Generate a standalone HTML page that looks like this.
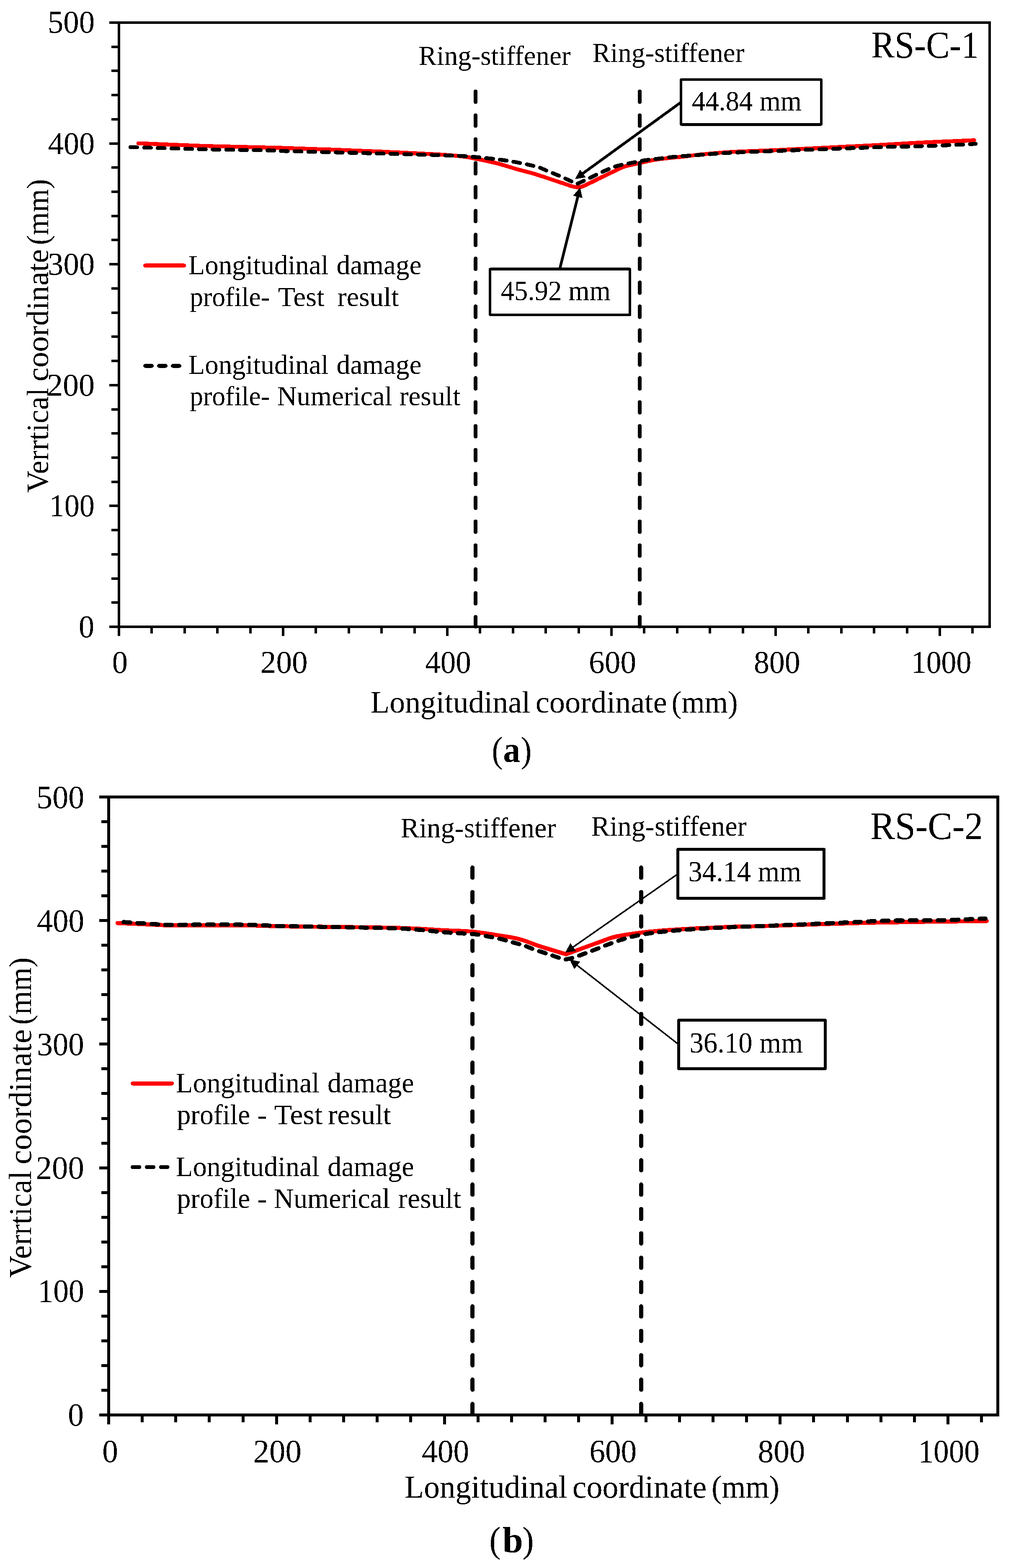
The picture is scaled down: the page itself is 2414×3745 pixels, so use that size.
<!DOCTYPE html>
<html lang="en"><head><meta charset="utf-8"><title>Longitudinal damage profiles RS-C-1 and RS-C-2</title>
<style>html,body{margin:0;padding:0;background:#fff}svg{display:block}text{font-family:'Liberation Serif', 'DejaVu Serif', serif;fill:#000;white-space:pre}</style></head><body>
<svg width="2414" height="3745" viewBox="0 0 2414 3745">
<defs><filter id="crisp" filterUnits="userSpaceOnUse" x="0" y="0" width="2414" height="3745" color-interpolation-filters="sRGB"><feComponentTransfer><feFuncR type="discrete" tableValues="0 1"/><feFuncG type="discrete" tableValues="0 1"/><feFuncB type="discrete" tableValues="0 1"/></feComponentTransfer></filter></defs>
<g filter="url(#crisp)">
<rect x="0" y="0" width="2414" height="3745" fill="#fff"/>
<g id="chart-a">
<rect x="284" y="54" width="2079.0" height="1443.0" fill="none" stroke="#000" stroke-width="6"/>
<path d="M261,1497.0H284M266,1439.0H284M266,1382.0H284M266,1324.0H284M266,1266.0H284M261,1208.0H284M266,1151.0H284M266,1093.0H284M266,1035.0H284M266,978.0H284M261,920.0H284M266,862.0H284M266,804.0H284M266,747.0H284M266,689.0H284M261,631.0H284M266,573.0H284M266,516.0H284M266,458.0H284M266,400.0H284M261,343.0H284M266,285.0H284M266,227.0H284M266,169.0H284M266,112.0H284M261,54.0H284M284.0,1497V1519M362.0,1497V1513M441.0,1497V1513M519.0,1497V1513M598.0,1497V1513M676.0,1497V1519M754.0,1497V1513M833.0,1497V1513M911.0,1497V1513M990.0,1497V1513M1068.0,1497V1519M1146.0,1497V1513M1225.0,1497V1513M1303.0,1497V1513M1382.0,1497V1513M1460.0,1497V1519M1538.0,1497V1513M1617.0,1497V1513M1695.0,1497V1513M1774.0,1497V1513M1852.0,1497V1519M1930.0,1497V1513M2009.0,1497V1513M2087.0,1497V1513M2166.0,1497V1513M2244.0,1497V1519M2322.0,1497V1513" stroke="#000" stroke-width="6" fill="none"/>
<text x="188.11" y="1522.0" font-size="75.7" textLength="37.18" lengthAdjust="spacingAndGlyphs">0</text>
<text x="117.69" y="1233.4" font-size="75.7" textLength="108.22" lengthAdjust="spacingAndGlyphs">100</text>
<text x="112.08" y="944.8" font-size="75.7" textLength="114.07" lengthAdjust="spacingAndGlyphs">200</text>
<text x="114.05" y="656.2" font-size="75.7" textLength="112.05" lengthAdjust="spacingAndGlyphs">300</text>
<text x="114.92" y="367.6" font-size="75.7" textLength="111.27" lengthAdjust="spacingAndGlyphs">400</text>
<text x="113.89" y="78.0" font-size="75.7" textLength="112.31" lengthAdjust="spacingAndGlyphs">500</text>
<text x="267.8" y="1607" font-size="75.7" textLength="37.29" lengthAdjust="spacingAndGlyphs">0</text>
<text x="621.92" y="1607" font-size="75.7" textLength="112.59" lengthAdjust="spacingAndGlyphs">200</text>
<text x="1015.24" y="1607" font-size="75.7" textLength="109.71" lengthAdjust="spacingAndGlyphs">400</text>
<text x="1405.99" y="1607" font-size="75.7" textLength="113.13" lengthAdjust="spacingAndGlyphs">600</text>
<text x="1799.93" y="1607" font-size="75.7" textLength="110.74" lengthAdjust="spacingAndGlyphs">800</text>
<text x="2175.93" y="1607" font-size="75.7" textLength="143.36" lengthAdjust="spacingAndGlyphs">1000</text>
<path d="M330.3,342.2C356.6,343.3 429.7,346.7 488.0,348.6C546.3,350.5 613.3,351.4 680.0,353.5C746.7,355.6 821.3,358.2 888.0,361.2C954.7,364.1 1038.8,368.2 1080.0,371.2C1121.2,374.2 1118.0,376.0 1135.3,379.0C1152.6,382.0 1167.2,385.2 1183.9,389.4C1200.7,393.6 1219.8,399.9 1235.8,404.4C1251.8,408.9 1262.7,411.1 1280.0,416.4C1297.3,421.7 1325.4,431.5 1339.7,436.3C1354.0,441.1 1359.2,443.2 1366.0,445.0C1372.8,446.8 1375.9,447.4 1380.6,447.2C1385.3,447.0 1384.1,448.3 1394.0,444.0C1403.9,439.7 1428.0,427.4 1440.0,421.6C1452.0,415.8 1457.3,413.3 1466.0,409.3C1474.7,405.3 1481.8,400.8 1492.0,397.5C1502.2,394.2 1514.5,392.2 1527.5,389.4C1540.5,386.6 1551.2,383.4 1570.0,380.7C1588.8,378.0 1623.7,374.9 1640.0,373.0C1656.3,371.1 1650.2,371.3 1667.8,369.6C1685.4,367.9 1713.7,364.8 1745.7,362.9C1777.7,361.0 1800.0,361.0 1860.0,358.2C1920.0,355.4 2047.0,348.9 2105.4,345.9C2163.8,342.9 2173.8,341.8 2210.6,340.0C2247.4,338.2 2306.8,335.8 2326.0,335.0" fill="none" stroke="#ff0000" stroke-width="9.4" stroke-linecap="round" stroke-linejoin="round"/>
<line x1="1135.6" y1="218.2" x2="1135.6" y2="1497" stroke="#000" stroke-width="9.2" stroke-linecap="round" stroke-dasharray="25.4 31.66"/>
<line x1="1527.6" y1="218.2" x2="1527.6" y2="1497" stroke="#000" stroke-width="9.2" stroke-linecap="round" stroke-dasharray="25.4 31.66"/>
<path d="M311.4,351.5C340.8,352.4 432.6,355.3 488.0,356.6C543.4,357.9 612.0,358.5 644.0,359.2C676.0,359.9 639.3,359.6 680.0,360.8C720.7,362.0 821.3,364.4 888.0,366.2C954.7,368.0 1038.8,370.2 1080.0,371.7C1121.2,373.2 1120.6,374.0 1135.3,375.1C1150.0,376.2 1157.6,377.2 1168.3,378.4C1179.0,379.6 1188.9,380.6 1199.5,382.1C1210.1,383.6 1221.1,385.3 1231.9,387.3C1242.7,389.3 1255.3,391.9 1264.4,394.0C1273.5,396.1 1279.7,397.4 1286.5,399.7C1293.3,401.9 1297.2,404.1 1305.3,407.5C1313.4,410.9 1325.2,415.6 1335.2,419.9C1345.2,424.2 1358.1,430.2 1365.1,433.5C1372.1,436.8 1375.1,438.4 1377.1,439.4C1380.3,438.0 1388.1,434.7 1396.2,430.9C1404.3,427.1 1415.9,421.2 1425.5,416.6C1435.1,412.0 1445.6,406.9 1454.0,403.4C1462.4,399.9 1466.8,398.2 1475.7,395.8C1484.6,393.4 1496.9,391.2 1507.5,389.1C1518.1,387.0 1528.7,384.6 1539.4,382.9C1550.1,381.2 1561.0,380.3 1571.8,379.0C1582.6,377.7 1593.8,376.2 1604.3,375.1C1614.8,374.0 1624.2,373.3 1634.8,372.5C1645.4,371.7 1649.3,371.5 1667.8,370.2C1686.3,368.9 1713.7,366.3 1745.7,364.7C1777.7,363.1 1800.0,362.5 1860.0,360.3C1920.0,358.1 2047.0,353.3 2105.4,351.4C2163.8,349.5 2175.5,350.1 2210.6,348.9C2245.7,347.7 2296.0,345.2 2315.8,344.3C2335.6,343.4 2327.3,343.7 2329.6,343.6" fill="none" stroke="#000" stroke-width="9.2" stroke-linecap="round" stroke-linejoin="round" stroke-dasharray="16.4 16.3" stroke-dashoffset="0"/>
<line x1="346.8" y1="634.1" x2="439.7" y2="634.1" stroke="#ff0000" stroke-width="9.3" stroke-linecap="round"/>
<line x1="346.9" y1="873.8" x2="428.3" y2="873.8" stroke="#000" stroke-width="9.3" stroke-linecap="round" stroke-dasharray="15.6 17.3"/>
<text y="655.2" font-size="65.5"><tspan x="449.66" textLength="334.91" lengthAdjust="spacingAndGlyphs">Longitudinal</tspan> <tspan x="803.51" textLength="203.23" lengthAdjust="spacingAndGlyphs">damage</tspan></text>
<text y="730.6" font-size="65.5"><tspan x="453.25" textLength="190.75" lengthAdjust="spacingAndGlyphs">profile-</tspan> <tspan x="663.83" textLength="110.84" lengthAdjust="spacingAndGlyphs">Test</tspan> <tspan x="805.78" textLength="146.66" lengthAdjust="spacingAndGlyphs">result</tspan></text>
<text y="893.2" font-size="65.5"><tspan x="449.66" textLength="334.91" lengthAdjust="spacingAndGlyphs">Longitudinal</tspan> <tspan x="803.51" textLength="203.23" lengthAdjust="spacingAndGlyphs">damage</tspan></text>
<text y="967.6" font-size="65.5"><tspan x="453.25" textLength="190.75" lengthAdjust="spacingAndGlyphs">profile-</tspan> <tspan x="661.85" textLength="274.67" lengthAdjust="spacingAndGlyphs">Numerical</tspan> <tspan x="953.39" textLength="145.85" lengthAdjust="spacingAndGlyphs">result</tspan></text>
<line x1="1629.5" y1="241.7" x2="1390.2" y2="415.4" stroke="#000" stroke-width="6.5"/>
<polygon points="1373.2,427.7 1385.1,404.9 1398.6,423.5" fill="#000"/>
<line x1="1333.6" y1="653.8" x2="1380.1" y2="468.2" stroke="#000" stroke-width="6.5"/>
<polygon points="1385.2,447.8 1390.8,472.9 1368.5,467.3" fill="#000"/>
<rect x="1626.4" y="189.9" width="334.2" height="107.5" fill="#fff" stroke="#000" stroke-width="6" stroke-linejoin="round"/>
<text x="1651.91" y="264" font-size="67.2" textLength="262.1" lengthAdjust="spacingAndGlyphs">44.84 mm</text>
<rect x="1170.3" y="642.5" width="333.7" height="109.6" fill="#fff" stroke="#000" stroke-width="6" stroke-linejoin="round"/>
<text x="1195.81" y="716.6" font-size="67.2" textLength="262.1" lengthAdjust="spacingAndGlyphs">45.92 mm</text>
<text x="999.35" y="155" font-size="65.5" textLength="363.02" lengthAdjust="spacingAndGlyphs">Ring-stiffener</text>
<text x="1414.15" y="148.2" font-size="65" textLength="363.02" lengthAdjust="spacingAndGlyphs">Ring-stiffener</text>
<text x="2080.28" y="137.8" font-size="90.7" textLength="257.07" lengthAdjust="spacingAndGlyphs">RS-C-1</text>
<text y="1701.7" font-size="74"><tspan x="885.09" textLength="381.37" lengthAdjust="spacingAndGlyphs">Longitudinal</tspan> <tspan x="1278.81" textLength="314.11" lengthAdjust="spacingAndGlyphs">coordinate</tspan> <tspan x="1603.5" textLength="158.15" lengthAdjust="spacingAndGlyphs">(mm)</tspan></text>
<text y="114.9" font-size="74" transform="rotate(-90)"><tspan x="-1176.73" textLength="250.17" lengthAdjust="spacingAndGlyphs">Verrtical</tspan> <tspan x="-911.11" textLength="316.05" lengthAdjust="spacingAndGlyphs">coordinate</tspan> <tspan x="-585.29" textLength="157.52" lengthAdjust="spacingAndGlyphs">(mm)</tspan></text>
<text y="1820" font-size="86"><tspan x="1174.37" textLength="26.12" lengthAdjust="spacingAndGlyphs">(</tspan><tspan x="1201.45" font-weight="bold" textLength="40.77" lengthAdjust="spacingAndGlyphs">a</tspan><tspan x="1243.48" textLength="25.86" lengthAdjust="spacingAndGlyphs">)</tspan></text>
</g>
<g id="chart-b">
<rect x="259.5" y="1903.5" width="2123.0" height="1476.0" fill="none" stroke="#000" stroke-width="7"/>
<path d="M237,3379.5H259.5M242,3320.5H259.5M242,3261.5H259.5M242,3202.5H259.5M242,3143.5H259.5M237,3084.5H259.5M242,3025.5H259.5M242,2966.5H259.5M242,2907.5H259.5M242,2848.5H259.5M237,2789.5H259.5M242,2730.5H259.5M242,2671.5H259.5M242,2611.5H259.5M242,2552.5H259.5M237,2493.5H259.5M242,2434.5H259.5M242,2375.5H259.5M242,2316.5H259.5M242,2257.5H259.5M237,2198.5H259.5M242,2139.5H259.5M242,2080.5H259.5M242,2021.5H259.5M242,1962.5H259.5M237,1903.5H259.5M259.5,3379.5V3402M339.5,3379.5V3397M419.5,3379.5V3397M499.5,3379.5V3397M580.5,3379.5V3397M660.5,3379.5V3402M740.5,3379.5V3397M820.5,3379.5V3397M900.5,3379.5V3397M980.5,3379.5V3397M1061.5,3379.5V3402M1141.5,3379.5V3397M1221.5,3379.5V3397M1301.5,3379.5V3397M1381.5,3379.5V3397M1461.5,3379.5V3402M1542.5,3379.5V3397M1622.5,3379.5V3397M1702.5,3379.5V3397M1782.5,3379.5V3397M1862.5,3379.5V3402M1942.5,3379.5V3397M2023.5,3379.5V3397M2103.5,3379.5V3397M2183.5,3379.5V3397M2263.5,3379.5V3402M2343.5,3379.5V3397" stroke="#000" stroke-width="7" fill="none"/>
<text x="162.37" y="3404.6" font-size="77.5" textLength="37.76" lengthAdjust="spacingAndGlyphs">0</text>
<text x="90.36" y="3109.4" font-size="77.5" textLength="110.4" lengthAdjust="spacingAndGlyphs">100</text>
<text x="85.54" y="2815.2" font-size="77.5" textLength="115.34" lengthAdjust="spacingAndGlyphs">200</text>
<text x="88.23" y="2520.0" font-size="77.5" textLength="112.58" lengthAdjust="spacingAndGlyphs">300</text>
<text x="88.09" y="2224.8" font-size="77.5" textLength="113.24" lengthAdjust="spacingAndGlyphs">400</text>
<text x="87.02" y="1929.6" font-size="77.5" textLength="114.34" lengthAdjust="spacingAndGlyphs">500</text>
<text x="244.18" y="3492.2" font-size="77.5" textLength="37.65" lengthAdjust="spacingAndGlyphs">0</text>
<text x="604.54" y="3492.2" font-size="77.5" textLength="115.45" lengthAdjust="spacingAndGlyphs">200</text>
<text x="1006.99" y="3492.2" font-size="77.5" textLength="113.45" lengthAdjust="spacingAndGlyphs">400</text>
<text x="1407.19" y="3492.2" font-size="77.5" textLength="113.13" lengthAdjust="spacingAndGlyphs">600</text>
<text x="1809.58" y="3492.2" font-size="77.5" textLength="112.74" lengthAdjust="spacingAndGlyphs">800</text>
<text x="2192.5" y="3492.2" font-size="77.5" textLength="146.35" lengthAdjust="spacingAndGlyphs">1000</text>
<path d="M280.5,2204.7C295.2,2205.3 348.6,2207.6 369.0,2208.5C389.4,2209.4 386.4,2209.8 402.9,2210.0C419.4,2210.2 439.7,2209.8 467.8,2209.8C495.9,2209.8 543.6,2209.6 571.7,2209.8C599.8,2210.1 621.9,2210.9 636.6,2211.3C651.3,2211.7 638.8,2211.6 660.0,2212.0C681.2,2212.4 729.3,2213.2 763.9,2213.6C798.5,2214.0 833.2,2214.2 867.8,2214.7C902.4,2215.2 939.7,2215.6 971.7,2216.8C1003.7,2218.0 1034.0,2220.4 1060.0,2221.8C1086.0,2223.2 1106.3,2223.2 1128.0,2225.2C1149.7,2227.2 1171.2,2230.9 1189.9,2233.9C1208.6,2236.9 1223.0,2238.5 1240.0,2243.0C1257.0,2247.5 1273.4,2255.0 1292.0,2261.0C1310.6,2267.0 1341.8,2276.2 1351.7,2279.2C1366.4,2273.8 1420.0,2253.9 1440.0,2246.8C1460.0,2239.7 1456.8,2239.8 1472.0,2236.6C1487.2,2233.4 1509.4,2230.1 1531.0,2227.5C1552.6,2224.9 1577.0,2222.8 1601.8,2221.0C1626.6,2219.2 1653.7,2217.9 1679.7,2216.6C1705.7,2215.3 1734.3,2214.0 1757.7,2213.2C1781.1,2212.4 1764.6,2213.4 1820.0,2211.8C1875.4,2210.2 2000.7,2205.6 2090.0,2203.6C2179.3,2201.6 2311.7,2200.4 2356.0,2199.8" fill="none" stroke="#ff0000" stroke-width="9.8" stroke-linecap="round" stroke-linejoin="round"/>
<line x1="1128.2" y1="2072.1" x2="1128.2" y2="3379.5" stroke="#000" stroke-width="9.8" stroke-linecap="round" stroke-dasharray="24.4 33.83"/>
<line x1="1530.9" y1="2072.1" x2="1530.9" y2="3379.5" stroke="#000" stroke-width="9.8" stroke-linecap="round" stroke-dasharray="24.4 33.83"/>
<path d="M295.0,2202.3C307.3,2203.1 351.0,2206.0 369.0,2207.1C387.0,2208.2 386.4,2208.8 402.9,2209.0C419.4,2209.2 439.7,2208.5 467.8,2208.4C495.9,2208.3 543.6,2208.1 571.7,2208.4C599.8,2208.7 621.9,2209.8 636.6,2210.3C651.3,2210.8 638.8,2211.1 660.0,2211.6C681.2,2212.1 729.3,2212.8 763.9,2213.4C798.5,2214.1 833.2,2214.6 867.8,2215.5C902.4,2216.4 939.7,2216.8 971.7,2218.6C1003.7,2220.4 1038.8,2224.8 1060.0,2226.5C1081.2,2228.2 1086.8,2228.3 1099.0,2229.1C1111.2,2229.9 1122.2,2230.0 1133.4,2231.3C1144.7,2232.6 1155.6,2234.8 1166.5,2236.8C1177.4,2238.9 1188.2,2240.9 1199.0,2243.6C1209.8,2246.2 1222.6,2250.2 1231.4,2252.7C1240.2,2255.2 1244.4,2255.9 1251.7,2258.4C1259.0,2260.9 1266.0,2264.2 1275.1,2267.5C1284.2,2270.8 1295.6,2274.3 1306.2,2277.9C1316.8,2281.5 1331.3,2286.7 1338.7,2289.0C1346.1,2291.3 1348.5,2291.2 1350.4,2291.6C1353.8,2290.8 1362.0,2289.5 1370.5,2286.8C1379.0,2284.1 1391.4,2279.2 1401.7,2275.3C1412.0,2271.4 1424.0,2266.8 1432.2,2263.6C1440.4,2260.4 1442.4,2259.3 1451.0,2256.1C1459.6,2252.9 1473.0,2247.8 1483.6,2244.4C1494.2,2241.0 1504.0,2238.3 1514.8,2235.8C1525.6,2233.3 1537.6,2231.3 1548.6,2229.6C1559.6,2227.9 1570.0,2226.7 1581.0,2225.5C1592.0,2224.3 1598.3,2223.6 1614.8,2222.3C1631.2,2221.0 1658.0,2219.0 1679.7,2217.7C1701.4,2216.4 1721.3,2215.5 1744.7,2214.5C1768.1,2213.5 1775.3,2213.6 1820.0,2211.8C1864.7,2210.0 1963.3,2205.7 2012.8,2203.6C2062.3,2201.5 2078.4,2200.0 2117.0,2199.0C2155.6,2198.0 2204.9,2198.6 2244.2,2197.8C2283.5,2197.0 2334.9,2194.6 2353.0,2194.0" fill="none" stroke="#000" stroke-width="10.0" stroke-linecap="round" stroke-linejoin="round" stroke-dasharray="16.0 17.3" stroke-dashoffset="0"/>
<line x1="317" y1="2587.7" x2="410.3" y2="2587.7" stroke="#ff0000" stroke-width="9.6" stroke-linecap="round"/>
<line x1="317.1" y1="2787.5" x2="399.8" y2="2787.5" stroke="#000" stroke-width="9.6" stroke-linecap="round" stroke-dasharray="15.2 18.6"/>
<text y="2609.2" font-size="67"><tspan x="420.11" textLength="342.89" lengthAdjust="spacingAndGlyphs">Longitudinal</tspan> <tspan x="782.07" textLength="206.71" lengthAdjust="spacingAndGlyphs">damage</tspan></text>
<text y="2685.0" font-size="67"><tspan x="422.42" textLength="174.71" lengthAdjust="spacingAndGlyphs">profile</tspan> <tspan x="614.86" textLength="22.54" lengthAdjust="spacingAndGlyphs">-</tspan> <tspan x="654.58" textLength="115.5" lengthAdjust="spacingAndGlyphs">Test</tspan> <tspan x="783.04" textLength="150.61" lengthAdjust="spacingAndGlyphs">result</tspan></text>
<text y="2809.2" font-size="67"><tspan x="420.11" textLength="342.89" lengthAdjust="spacingAndGlyphs">Longitudinal</tspan> <tspan x="782.07" textLength="206.71" lengthAdjust="spacingAndGlyphs">damage</tspan></text>
<text y="2885.2" font-size="67"><tspan x="422.42" textLength="174.71" lengthAdjust="spacingAndGlyphs">profile</tspan> <tspan x="614.86" textLength="22.54" lengthAdjust="spacingAndGlyphs">-</tspan> <tspan x="653.83" textLength="277.4" lengthAdjust="spacingAndGlyphs">Numerical</tspan> <tspan x="950.55" textLength="150.41" lengthAdjust="spacingAndGlyphs">result</tspan></text>
<line x1="1621.8" y1="2085.0" x2="1366.9" y2="2263.1" stroke="#000" stroke-width="3.6"/>
<polygon points="1349.7,2275.1 1362.0,2252.5 1375.1,2271.4" fill="#000"/>
<line x1="1623.6" y1="2497.1" x2="1376.7" y2="2304.5" stroke="#000" stroke-width="3.6"/>
<polygon points="1360.1,2291.6 1385.3,2296.7 1371.2,2314.8" fill="#000"/>
<rect x="1618.7" y="2028.7" width="349.1" height="116.6" fill="#fff" stroke="#000" stroke-width="7" stroke-linejoin="round"/>
<text x="1643.44" y="2105.2" font-size="69.2" textLength="269.7" lengthAdjust="spacingAndGlyphs">34.14 mm</text>
<rect x="1620.8" y="2436.5" width="349.6" height="115.8" fill="#fff" stroke="#000" stroke-width="7" stroke-linejoin="round"/>
<text x="1646.53" y="2513.5" font-size="69.2" textLength="270.51" lengthAdjust="spacingAndGlyphs">36.10 mm</text>
<text x="956.71" y="2000.3" font-size="67" textLength="370.88" lengthAdjust="spacingAndGlyphs">Ring-stiffener</text>
<text x="1411.81" y="1995.6" font-size="67" textLength="370.88" lengthAdjust="spacingAndGlyphs">Ring-stiffener</text>
<text x="2078.16" y="2004.3" font-size="93" textLength="269.09" lengthAdjust="spacingAndGlyphs">RS-C-2</text>
<text y="3576.8" font-size="75.8"><tspan x="966.34" textLength="388.33" lengthAdjust="spacingAndGlyphs">Longitudinal</tspan> <tspan x="1366.85" textLength="320.42" lengthAdjust="spacingAndGlyphs">coordinate</tspan> <tspan x="1699.02" textLength="162.11" lengthAdjust="spacingAndGlyphs">(mm)</tspan></text>
<text y="74.2" font-size="76" transform="rotate(-90)"><tspan x="-3052.14" textLength="255.42" lengthAdjust="spacingAndGlyphs">Verrtical</tspan> <tspan x="-2780.97" textLength="322.86" lengthAdjust="spacingAndGlyphs">coordinate</tspan> <tspan x="-2447.46" textLength="160.75" lengthAdjust="spacingAndGlyphs">(mm)</tspan></text>
<text y="3707.4" font-size="86"><tspan x="1168.48" textLength="26.77" lengthAdjust="spacingAndGlyphs">(</tspan><tspan x="1200.31" font-weight="bold" textLength="48.48" lengthAdjust="spacingAndGlyphs">b</tspan><tspan x="1247.32" textLength="27.42" lengthAdjust="spacingAndGlyphs">)</tspan></text>
</g>
</g>
</svg></body></html>
